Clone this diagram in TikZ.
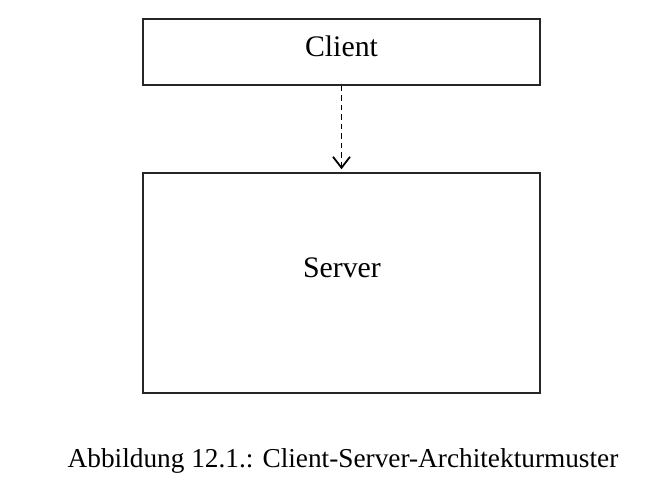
\documentclass[tikz,border=0pt]{standalone}
\usepackage{fontspec}
\setmainfont{Liberation Serif}
\usetikzlibrary{arrows.meta}
\begin{document}
\begin{tikzpicture}[x=1pt,y=-1pt,
  box/.style={draw=black!85,line width=1.5pt,rectangle,inner sep=0pt},
  boxlabel/.style={font=\fontsize{29.8}{34}\selectfont,anchor=base,inner sep=0pt},
  dep/.style={draw=black,line width=1.8pt,dash pattern=on 5.5pt off 4pt,-{Straight Barb[length=11pt,width=17pt,line width=1.8pt]}}]
\useasboundingbox (0,0) rectangle (668,496);
\node[box,minimum width=397pt,minimum height=66pt] (client) at (341.5,52) {};
\node[box,minimum width=397pt,minimum height=220pt] (server) at (341.5,283) {};
\node[boxlabel] (clientlbl) at (341.5,56) {Client};
\node[boxlabel] (serverlbl) at (342,277) {Server};
\draw[dep] (client.south) -- ([yshift=3pt]server.north);
\node[font=\fontsize{27.3}{32}\selectfont,anchor=base,inner sep=0pt] (caption) at (343,467) {Abbildung 12.1.: Client-Server-Architekturmuster};
\end{tikzpicture}
\end{document}
